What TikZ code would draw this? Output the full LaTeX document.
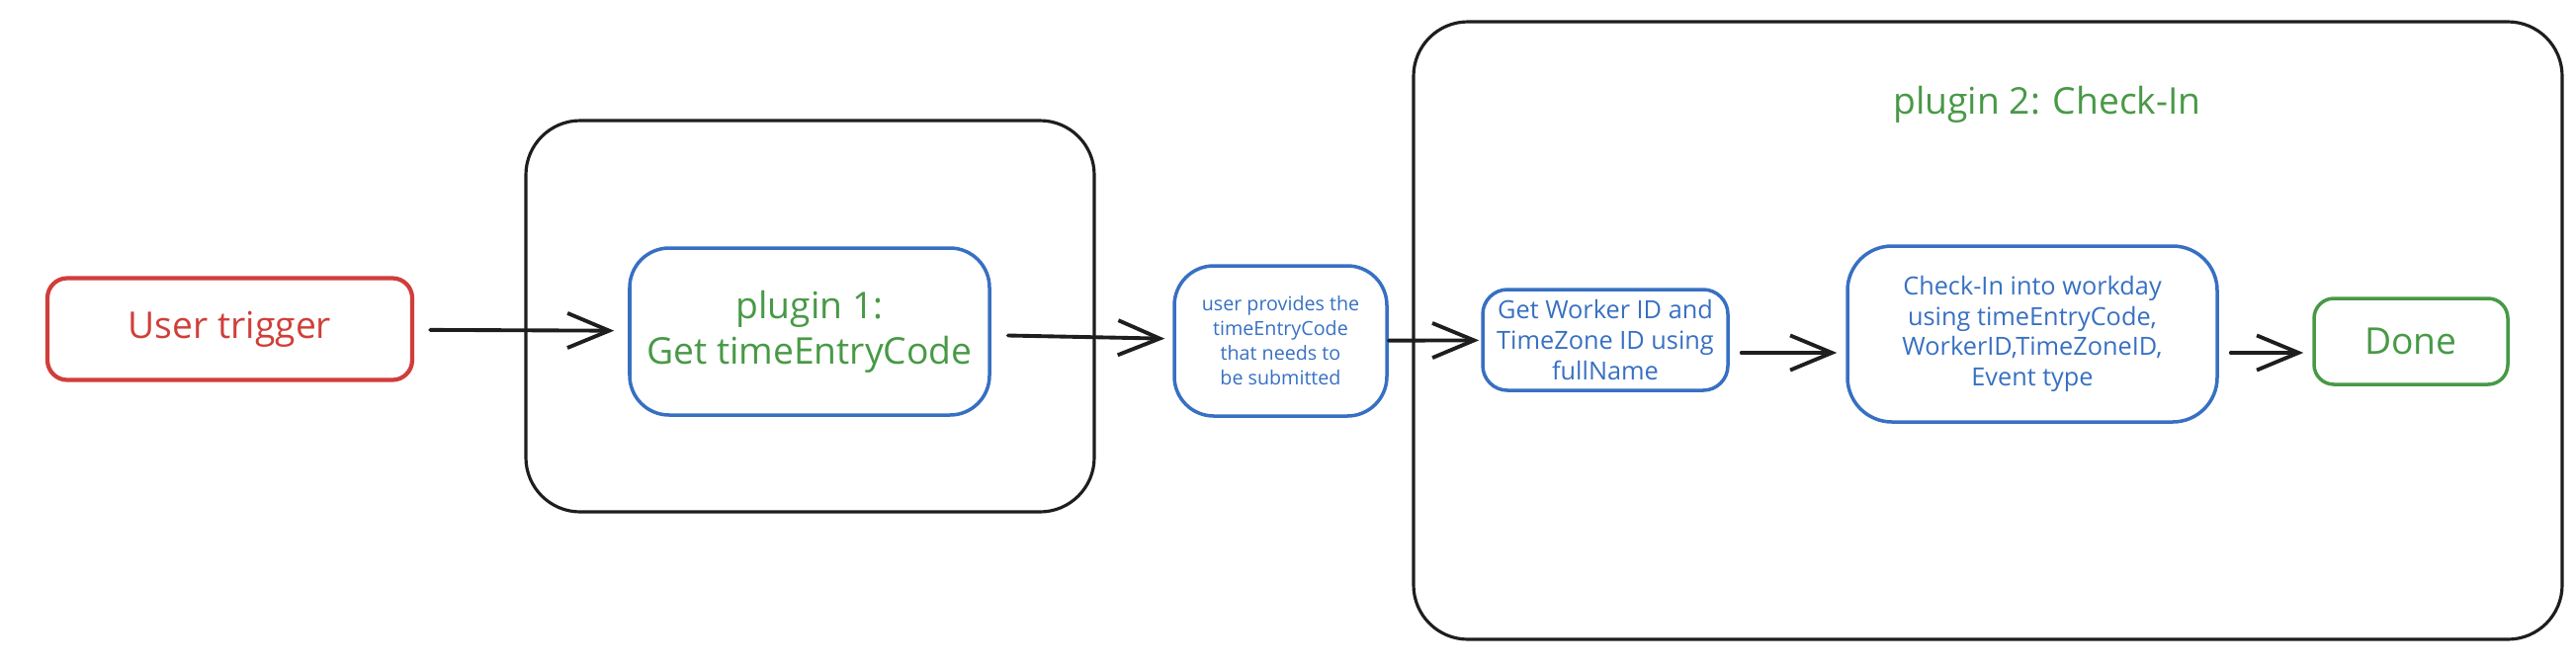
\documentclass[tikz,border=0pt]{standalone}
\usepackage{fontspec}
\setmainfont{Open Sans}
\usetikzlibrary{arrows.meta}
\definecolor{exred}{RGB}{208,62,58}
\definecolor{exblue}{RGB}{55,112,194}
\definecolor{exgreen}{RGB}{72,153,70}
\definecolor{exblack}{RGB}{30,30,30}
\tikzset{
  group/.style={draw=exblack, line width=0.9pt, rounded corners=0.55cm, inner sep=0pt},
  task/.style={draw=exblue, line width=1pt, align=center, inner sep=0pt, text=exblue},
  flow/.style={draw=exblack, line width=1.1pt, -{Straight Barb[length=12pt,width=10pt]}},
  big/.style={font=\fontsize{10.6}{13}\selectfont},
  small/.style={font=\fontsize{5.6}{7.1}\selectfont},
  mid/.style={font=\fontsize{7.2}{8.7}\selectfont},
}
\begin{document}
\begin{tikzpicture}[line cap=round]
\useasboundingbox (0,0) rectangle (26.06,6.74);
%\draw[step=1cm,very thin,color=gray] (0,0) grid (26,6);
\node[group, minimum width=5.75cm, minimum height=3.96cm] (plugA) at (8.195,3.54) {};
\node[group, minimum width=11.62cm, minimum height=6.25cm] (plugB) at (20.11,3.395) {};
\node[big, text=exgreen] (title) at (20.71,5.68) {plugin 2: Check-In};
\node[draw=exred, line width=1.2pt, rounded corners=0.2cm, big, text=exred, minimum width=3.69cm, minimum height=1.03cm] (trigger) at (2.325,3.41) {User trigger};
\node[task, big, text=exgreen, rounded corners=0.4cm, minimum width=3.64cm, minimum height=1.69cm] (getcode) at (8.19,3.385) {plugin 1:\\Get timeEntryCode};
\node[task, small, rounded corners=0.4cm, minimum width=2.15cm, minimum height=1.52cm] (provide) at (12.955,3.29) {user provides the\\timeEntryCode\\that needs to\\be submitted};
\node[task, mid, rounded corners=0.25cm, minimum width=2.48cm, minimum height=1.02cm] (worker) at (16.24,3.30) {Get Worker ID and\\TimeZone ID using\\fullName};
\node[task, mid, rounded corners=0.45cm, minimum width=3.74cm, minimum height=1.78cm] (checkin) at (20.56,3.36) {Check-In into workday\\using timeEntryCode,\\WorkerID,TimeZoneID,\\Event type};
\node[draw=exgreen, line width=1pt, rounded corners=0.2cm, big, text=exgreen, minimum width=1.96cm, minimum height=0.87cm] (done) at (24.39,3.285) {Done};
\draw[flow, shorten <=0.16cm, shorten >=0.14cm] (trigger) -- (getcode);
\draw[flow, shorten <=0.17cm, shorten >=0.08cm] (getcode) -- (provide);
\draw[flow, shorten >=0.02cm] (provide) -- (worker);
\draw[flow, shorten <=0.12cm, shorten >=0.09cm] ([yshift=-0.13cm]worker.east) -- ([yshift=-0.19cm]checkin.west);
\draw[flow, shorten <=0.12cm, shorten >=0.09cm] ([yshift=-0.19cm]checkin.east) -- ([yshift=-0.115cm]done.west);
\end{tikzpicture}
\end{document}
